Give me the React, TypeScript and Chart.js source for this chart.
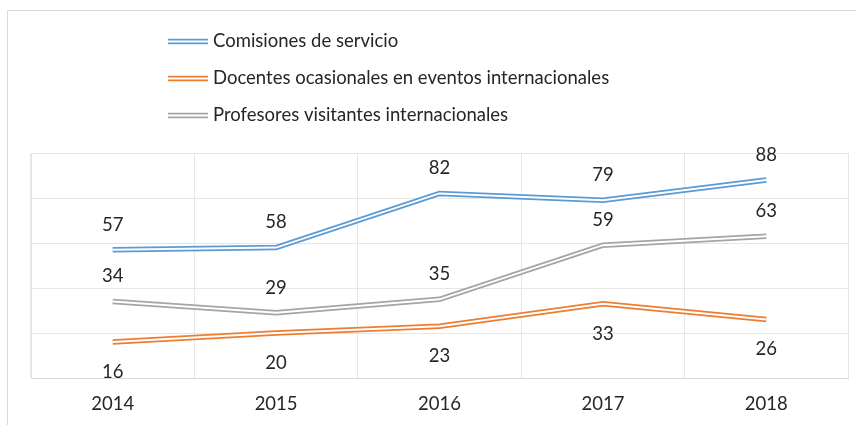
import React, { useEffect, useRef } from 'react';
import { Chart, registerables } from 'chart.js';

Chart.register(...registerables);

const categories = ['2014', '2015', '2016', '2017', '2018'];
const comisiones = [57, 58, 82, 79, 88];
const docentes = [16, 20, 23, 33, 26];
const profesores = [34, 29, 35, 59, 63];
const seriesNames = [
  'Comisiones de servicio',
  'Docentes ocasionales en eventos internacionales',
  'Profesores visitantes internacionales',
];
const seriesValues = [comisiones, docentes, profesores];
const seriesColors = ['#5B9BD5', '#ED7D31', '#A5A5A5'];
const labelBelow = [false, true, false];
const yMin = 0;
const yMax = 100;
const yStep = 20;

const FONT = 'Lato, Carlito, "Liberation Sans", sans-serif';
const TEXT = '#262626';
const GRID = '#e6e6e6';
const FS = 18.5;

const legendPlugin = {
  id: 'customLegend',
  afterDraw(chart: any) {
    const ctx = chart.ctx;
    ctx.save();
    const x0 = 168;
    const x1 = 208;
    const ys = [41.5, 78.5, 115.5];
    seriesNames.forEach((name, i) => {
      const y = ys[i];
      ctx.lineCap = 'butt';
      ctx.strokeStyle = seriesColors[i];
      ctx.lineWidth = 5.5;
      ctx.beginPath();
      ctx.moveTo(x0, y);
      ctx.lineTo(x1, y);
      ctx.stroke();
      ctx.strokeStyle = '#ffffff';
      ctx.lineWidth = 1.8;
      ctx.beginPath();
      ctx.moveTo(x0, y);
      ctx.lineTo(x1, y);
      ctx.stroke();
      ctx.fillStyle = TEXT;
      ctx.font = `${FS}px ${FONT}`;
      ctx.textAlign = 'left';
      ctx.textBaseline = 'middle';
      ctx.fillText(name, 213, y);
    });
    ctx.restore();
  },
};

const dataLabelPlugin = {
  id: 'dataLabels',
  afterDatasetsDraw(chart: any) {
    const ctx = chart.ctx;
    ctx.save();
    ctx.fillStyle = TEXT;
    ctx.font = `${FS}px ${FONT}`;
    ctx.textAlign = 'center';
    ctx.textBaseline = 'middle';
    seriesValues.forEach((vals, s) => {
      const meta = chart.getDatasetMeta(s * 2);
      meta.data.forEach((pt: any, i: number) => {
        const dy = labelBelow[s] ? 30 : -25;
        ctx.fillText(String(vals[i]), pt.x, pt.y + dy);
      });
    });
    ctx.restore();
  },
};

export default function App() {
  const ref = useRef<HTMLCanvasElement | null>(null);

  useEffect(() => {
    document.body.style.margin = '0';
    document.body.style.overflow = 'hidden';
    const canvas = ref.current;
    if (!canvas) return;
    const datasets: any[] = [];
    seriesValues.forEach((vals, s) => {
      datasets.push({
        label: seriesNames[s],
        data: vals,
        borderColor: seriesColors[s],
        backgroundColor: seriesColors[s],
        borderWidth: 5.5,
        pointRadius: 0,
        tension: 0,
        fill: false,
        borderJoinStyle: 'miter',
        order: 2,
      });
      datasets.push({
        label: seriesNames[s] + ' (inner)',
        data: vals,
        borderColor: '#ffffff',
        backgroundColor: '#ffffff',
        borderWidth: 1.8,
        pointRadius: 0,
        tension: 0,
        fill: false,
        borderJoinStyle: 'miter',
        order: 1,
      });
    });
    const chart = new Chart(canvas, {
      type: 'line',
      data: { labels: categories, datasets },
      options: {
        responsive: false,
        animation: false,
        layout: { padding: { left: 31, right: 8, top: 153, bottom: 9 } },
        plugins: {
          legend: { display: false },
          tooltip: { enabled: false },
        },
        scales: {
          x: {
            type: 'category',
            offset: true,
            grid: { offset: true, color: GRID, drawTicks: false },
            border: { display: true, color: '#d9d9d9' },
            ticks: { color: TEXT, font: { family: FONT, size: FS }, padding: 15 },
            afterFit: (scale: any) => {
              scale.height = 38;
            },
          },
          y: {
            min: yMin,
            max: yMax,
            ticks: { display: false, stepSize: yStep },
            grid: { color: GRID, drawTicks: false },
            border: { display: true, color: GRID },
          },
        },
      },
      plugins: [dataLabelPlugin, legendPlugin],
    });
    return () => chart.destroy();
  }, []);

  return (
    <div style={{ position: 'relative', width: 856, height: 425, overflow: 'hidden', background: '#ffffff' }}>
      <div
        style={{
          position: 'absolute',
          left: 7,
          top: 10,
          width: 900,
          height: 500,
          border: '1px solid #d9d9d9',
        }}
      />
      <canvas ref={ref} width={856} height={425} style={{ position: 'absolute', left: 0, top: 0, display: 'block' }} />
    </div>
  );
}
